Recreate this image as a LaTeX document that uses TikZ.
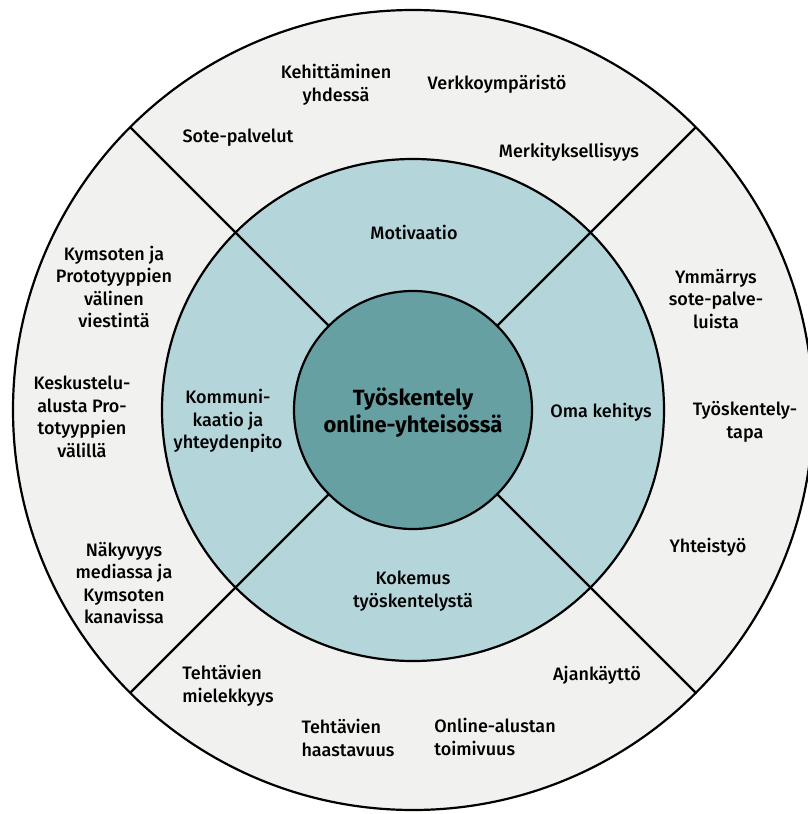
\documentclass[tikz,border=0pt]{standalone}
\usepackage{fontspec}
\setmainfont{Fira Sans}[UprightFont=* Medium, BoldFont=* Bold]
\definecolor{ringout}{RGB}{241,241,240}
\definecolor{ringmid}{RGB}{180,214,218}
\definecolor{core}{RGB}{102,160,163}
\begin{document}
\begin{tikzpicture}[x=1pt,y=-1pt,
  ring/.style={circle,draw=black,line width=2.2pt,inner sep=0pt,outer sep=0pt},
  divider/.style={draw=black,line width=2.2pt},
  lbl/.style={align=center,inner sep=0pt,font=\fontsize{18}{22.5}\selectfont},
  lbll/.style={lbl,align=left},
  title/.style={align=center,inner sep=0pt,font=\fontsize{22}{27}\selectfont\bfseries}]
\useasboundingbox (0,0) rectangle (808,814);
\coordinate (c) at (413,410);
% three concentric rings
\node[ring,fill=ringout,minimum size=800pt] (outer) at (c) {};
\node[ring,fill=ringmid,minimum size=502pt] (mid) at (c) {};
\node[ring,fill=core,minimum size=238pt] (hub) at (c) {};
% diagonal sector dividers
\draw[divider] (hub.45) -- (outer.45);
\draw[divider] (hub.135) -- (outer.135);
\draw[divider] (hub.225) -- (outer.225);
\draw[divider] (hub.315) -- (outer.315);
% centre
\node[title] (ttl) at (413,413) {Työskentely\\online-yhteisössä};
% middle ring
\node[lbl] (motiv) at (414,232) {Motivaatio};
\node[lbl] (komm) at (228,421) {Kommuni-\\kaatio ja\\yhteydenpito};
\node[lbl] (oma) at (601,412) {Oma kehitys};
\node[lbl] (koke) at (413,591) {Kokemus\\työskentelystä};
% outer ring, top
\node[lbl] (kehit) at (336,85) {Kehittäminen\\yhdessä};
\node[lbl] (verkko) at (497,84) {Verkkoympäristö};
\node[lbl] (sote) at (238,138) {Sote-palvelut};
\node[lbl] (merk) at (569,152) {Merkityksellisyys};
% outer ring, right
\node[lbl] (ymm) at (716,299) {Ymmärrys\\sote-palve-\\luista};
\node[lbl] (tapa) at (745,422) {Työskentely-\\tapa};
\node[lbl] (yht) at (708,547) {Yhteistyö};
% outer ring, bottom
\node[lbl] (ajan) at (597,675) {Ajankäyttö};
\node[lbll] (alusta) at (495,737) {Online-alustan\\toimivuus};
\node[lbll] (haast) at (348,738) {Tehtävien\\haastavuus};
\node[lbll] (miel) at (228,686) {Tehtävien\\mielekkyys};
% outer ring, left
\node[lbl] (vies) at (114,287) {Kymsoten ja\\Prototyyppien\\välinen\\viestintä};
\node[lbl] (kesk) at (82,417) {Keskustelu-\\alusta Pro-\\totyyppien\\välillä};
\node[lbl] (nak) at (124,583) {Näkyvyys\\mediassa ja\\Kymsoten\\kanavissa};
\end{tikzpicture}
\end{document}
